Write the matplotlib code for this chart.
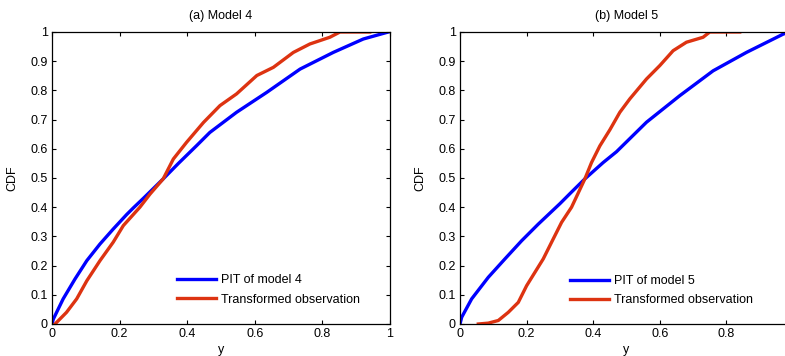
import matplotlib
matplotlib.use("Agg")
import matplotlib.pyplot as plt
import numpy as np

plt.rcParams['font.family'] = ['Liberation Sans', 'DejaVu Sans']
plt.rcParams['font.size'] = 9

# values
pit4_x = [0, 0.004, 0.033, 0.068, 0.103, 0.142, 0.181, 0.221, 0.241, 0.27, 0.329, 0.374, 0.428, 0.467,
          0.546, 0.635, 0.734, 0.832, 0.921, 0.995]
pit4_y = [0, 0.017, 0.086, 0.154, 0.217, 0.274, 0.325, 0.375, 0.398, 0.430, 0.497, 0.55, 0.611, 0.656,
          0.725, 0.793, 0.873, 0.930, 0.976, 1.0]
obs4_x = [0.009, 0.043, 0.073, 0.103, 0.142, 0.181, 0.211, 0.26, 0.29, 0.329, 0.359, 0.398, 0.448, 0.497,
          0.546, 0.606, 0.655, 0.714, 0.763, 0.822, 0.852, 0.94]
obs4_y = [0.0, 0.04, 0.086, 0.148, 0.217, 0.28, 0.337, 0.40, 0.445, 0.497, 0.565, 0.622, 0.69, 0.748,
          0.788, 0.851, 0.879, 0.930, 0.959, 0.982, 1.0, 1.0]

pit5_x = [0, 0.005, 0.035, 0.085, 0.135, 0.185, 0.235, 0.30, 0.335, 0.375, 0.43, 0.47, 0.56, 0.66,
          0.76, 0.86, 0.971, 0.99]
pit5_y = [0, 0.023, 0.086, 0.16, 0.223, 0.285, 0.342, 0.412, 0.452, 0.497, 0.553, 0.59, 0.691, 0.782,
          0.867, 0.930, 0.993, 1.0]
obs5_x = [0.055, 0.085, 0.115, 0.145, 0.175, 0.2, 0.225, 0.25, 0.275, 0.305, 0.335, 0.375, 0.395, 0.42,
          0.45, 0.48, 0.51, 0.56, 0.6, 0.64, 0.68, 0.73, 0.75, 0.84]
obs5_y = [0.0, 0.003, 0.012, 0.04, 0.074, 0.131, 0.177, 0.223, 0.28, 0.348, 0.40, 0.497, 0.553, 0.61,
          0.665, 0.725, 0.771, 0.839, 0.885, 0.936, 0.965, 0.982, 1.0, 1.0]

blue = '#0000ff'
red = '#dd3311'

fig = plt.figure(figsize=(7.85, 3.56), dpi=100)
ax1 = fig.add_axes([52/785, 32/356, 338/785, 292/356])
# right panel runs off the image edge, as in the reference
ax2 = fig.add_axes([460/785, 32/356, 333/785, 292/356])

panels = [
    (ax1, pit4_x, pit4_y, obs4_x, obs4_y, '(a) Model 4', 'PIT of model 4', (0.926, 0.046)),
    (ax2, pit5_x, pit5_y, obs5_x, obs5_y, '(b) Model 5', 'PIT of model 5', (0.895, 0.043)),
]

for ax, px, py, ox, oy, title, lab, anchor in panels:
    ax.plot(px, py, color=blue, lw=2.4, label=lab)
    ax.plot(ox, oy, color=red, lw=2.4, label='Transformed observation')
    ax.set_xlim(0, 1)
    ax.set_ylim(0, 1)
    ax.set_xticks([0, 0.2, 0.4, 0.6, 0.8, 1.0])
    ax.set_xticklabels(['0', '0.2', '0.4', '0.6', '0.8', '1'])
    ax.set_yticks(np.arange(0, 1.01, 0.1))
    ax.set_yticklabels(['0'] + ['%.1f' % v for v in np.arange(0.1, 0.95, 0.1)] + ['1'])
    ax.tick_params(direction='in', top=True, right=True, length=3, width=0.8, pad=3)
    for s in ax.spines.values():
        s.set_linewidth(0.9)
    ax.set_title(title, fontsize=9, pad=9)
    ax.set_ylabel('CDF', labelpad=9)
    ax.set_xlabel('y', labelpad=3)
    ax.legend(loc='lower right', frameon=False, handlelength=3.1, handletextpad=0.4,
              labelspacing=0.6, bbox_to_anchor=anchor, borderaxespad=0, fontsize=9)

# the "1" of the right panel falls outside the image in the reference
ax2.get_xticklabels()[-1].set_visible(False)

fig.savefig('out.png', dpi=100)
